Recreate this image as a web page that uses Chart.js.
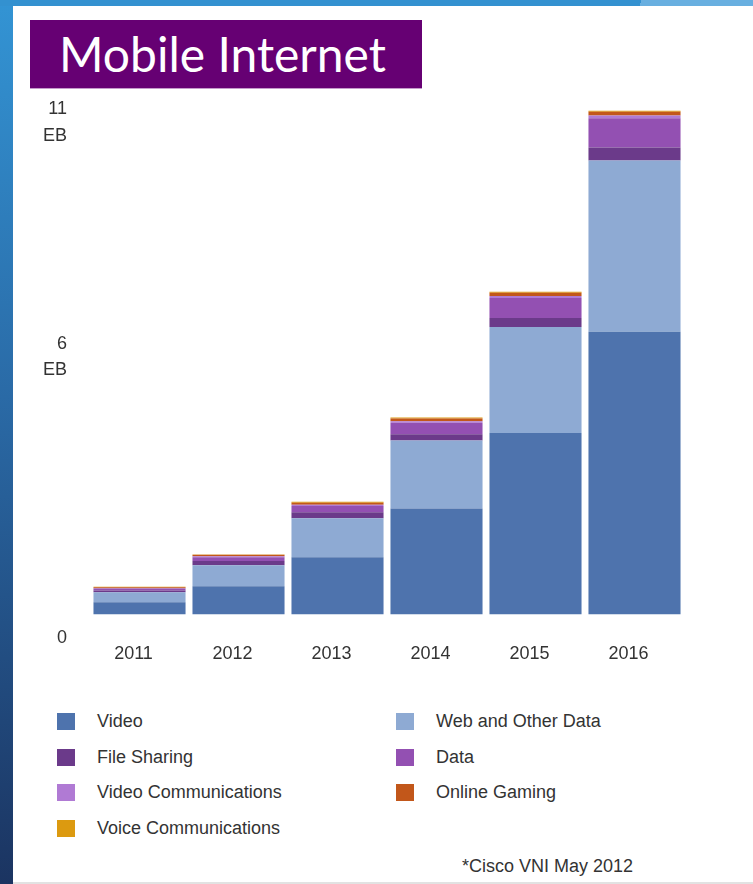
<!DOCTYPE html>
<html lang="en">
<head>
  <meta charset="UTF-8">
  <title>Mobile Internet</title>
  <script src="https://cdn.jsdelivr.net/npm/chart.js"></script>
  <style>
    html, body { margin: 0; padding: 0; }
    body {
      width: 753px; height: 884px; position: relative; overflow: hidden;
      background: #fff; font-family: "Liberation Sans", Arial, sans-serif;
    }
    /* slide frame */
    .edge-left {
      position: absolute; left: 0; top: 0; width: 13px; height: 884px;
      background: linear-gradient(#3394d4, #2a6aa6 45%, #1b3461);
    }
    .edge-top {
      position: absolute; left: 0; top: 0; width: 753px; height: 6px;
      background: linear-gradient(100deg, #3391d0 85%, #68afe0 85%);
    }
    .edge-bottom {
      position: absolute; left: 13px; bottom: 0; width: 740px; height: 2px; background: #e2e2e2;
    }
    .title {
      position: absolute; left: 30px; top: 20px; width: 392px; height: 68px;
      box-sizing: border-box; padding-left: 29px;
      background: #660073; box-shadow: 0 1px 0 #c59acb;
      color: #fff; font-family: Lato, sans-serif; font-size: 48px; line-height: 68px;
    }
    #chart-wrap { position: absolute; left: 13px; top: 49px; }
    #legend {
      position: absolute; left: 57px; top: 704px;
      display: grid; grid-template-columns: 339px 300px; grid-auto-rows: 35.5px;
    }
    .legend-item { display: flex; align-items: center; font-size: 18px; color: #333; white-space: nowrap; }
    .legend-box { width: 18px; height: 17px; margin-right: 22px; flex: none; }
    .source { position: absolute; left: 462px; top: 856px; font-size: 18px; color: #333; }
  </style>
</head>
<body>
  <div class="edge-left"></div>
  <div class="edge-top"></div>
  <div class="edge-bottom"></div>

  <div class="title">Mobile Internet</div>

  <div id="chart-wrap">
    <canvas id="trafficChart" width="740" height="645"></canvas>
  </div>

  <div id="legend"></div>
  <div class="source">*Cisco VNI May 2012</div>

  <script>
    // Mobile traffic per year, exabytes per month
    const years = ['2011', '2012', '2013', '2014', '2015', '2016'];
    const video = [0.26, 0.60, 1.22, 2.26, 3.87, 6.03];
    const webData = [0.21, 0.45, 0.83, 1.45, 2.26, 3.65];
    const fileSharing = [0.04, 0.09, 0.13, 0.13, 0.19, 0.28];
    const dataTraffic = [0.04, 0.08, 0.13, 0.25, 0.43, 0.62];
    const videoComm = [0.01, 0.02, 0.03, 0.03, 0.04, 0.06];
    const onlineGaming = [0.02, 0.03, 0.04, 0.06, 0.07, 0.08];
    const voiceComm = [0.01, 0.01, 0.02, 0.02, 0.02, 0.02];

    const yTicks = [0, 6, 11];
    const unit = 'EB';

    // stacking order, bottom to top (also legend order)
    const seriesNames = ['Video', 'Web and Other Data', 'File Sharing', 'Data',
      'Video Communications', 'Online Gaming', 'Voice Communications'];
    const seriesValues = [video, webData, fileSharing, dataTraffic, videoComm, onlineGaming, voiceComm];
    const seriesColors = ['#4e73ad', '#8eaad3', '#6b3a8a', '#9350b2', '#b07ad4', '#c2571a', '#dc9a10'];

    Chart.defaults.font.family = '"Liberation Sans", Arial, sans-serif';
    Chart.defaults.color = '#333';

    // two-column legend outside the canvas
    const htmlLegend = {
      id: 'htmlLegend',
      afterUpdate(chart) {
        const box = document.getElementById('legend');
        box.innerHTML = '';
        chart.options.plugins.legend.labels.generateLabels(chart).forEach(item => {
          const row = document.createElement('div');
          row.className = 'legend-item';
          const swatch = document.createElement('span');
          swatch.className = 'legend-box';
          swatch.style.background = item.fillStyle;
          row.appendChild(swatch);
          row.appendChild(document.createTextNode(item.text));
          box.appendChild(row);
        });
      }
    };

    const ctx = document.getElementById('trafficChart').getContext('2d');
    const trafficChart = new Chart(ctx, {
      type: 'bar',
      data: {
        labels: years,
        datasets: seriesNames.map((name, i) => ({
          label: name,
          data: seriesValues[i],
          backgroundColor: seriesColors[i],
          borderWidth: 0,
          categoryPercentage: 1,
          barPercentage: 0.93
        }))
      },
      options: {
        responsive: false,
        animation: false,
        layout: { padding: { top: 0, left: 7, right: 69, bottom: 0 } },
        plugins: {
          legend: { display: false },
          tooltip: { enabled: false }
        },
        scales: {
          x: {
            stacked: true,
            grid: { display: false, drawTicks: false },
            border: { display: false },
            ticks: { padding: 29, labelOffset: -6, font: { size: 18 } }
          },
          y: {
            stacked: true,
            min: 0,
            max: 11,
            grid: { display: false, drawTicks: false },
            border: { display: false },
            afterBuildTicks: scale => {
              scale.ticks = yTicks.map(v => ({ value: v }));
            },
            ticks: {
              padding: 23,
              labelOffset: 24,
              font: { size: 18, lineHeight: 1.48 },
              callback: v => v === 0 ? '0' : [String(v), unit]
            }
          }
        }
      },
      plugins: [htmlLegend]
    });
  </script>
</body>
</html>
